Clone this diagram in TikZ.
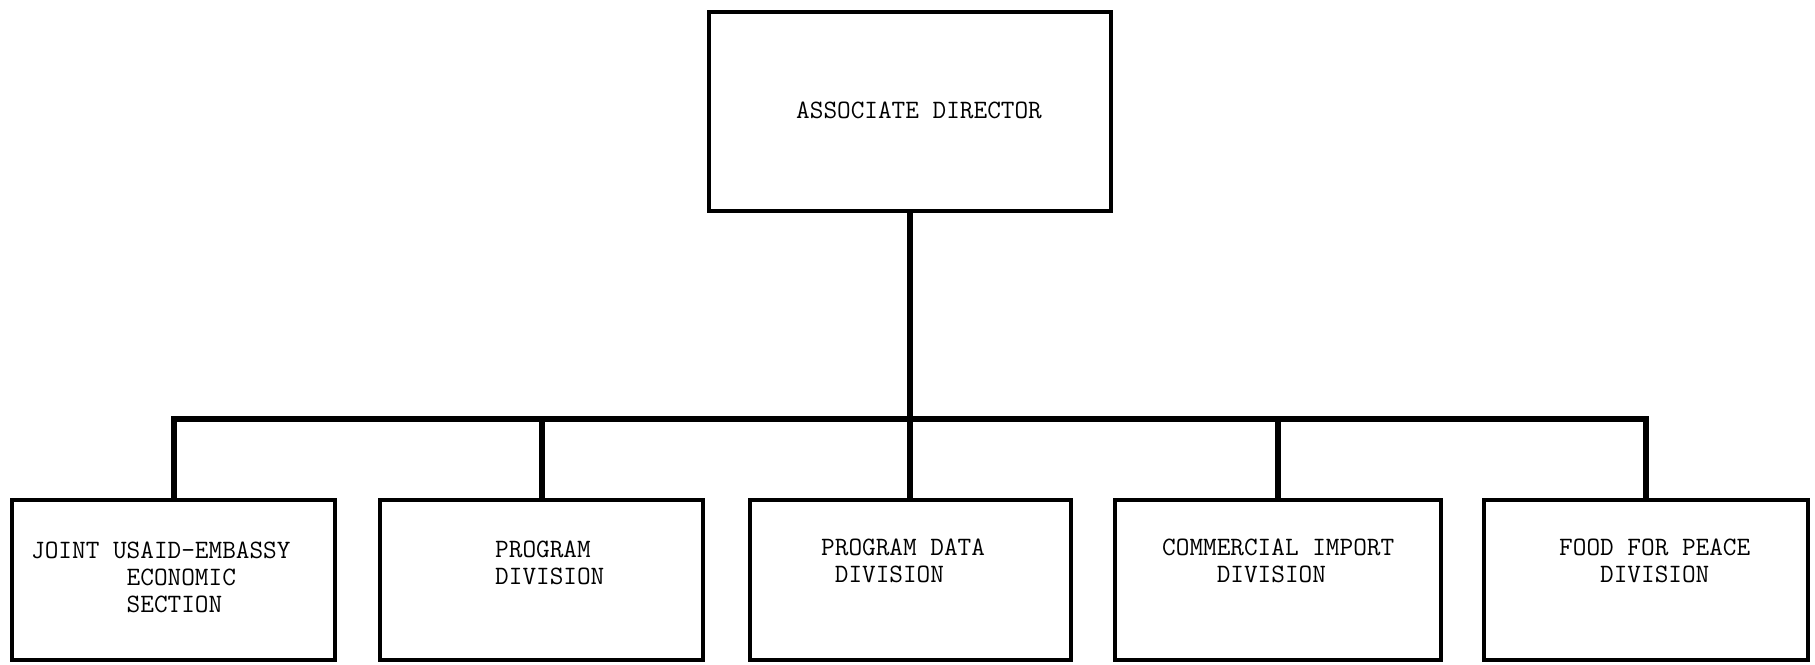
\documentclass[tikz,border=0pt]{standalone}
\usetikzlibrary{positioning}

% stacked lines of typewriter text, aligned on the first line's baseline
\newcommand{\boxlines}[1]{\begin{tabular}[t]{@{}l@{}}#1\end{tabular}}
% one character column of indent in the monospaced face
\newcommand{\col}[1]{\hphantom{#1}}

\begin{document}
\begin{tikzpicture}[x=1pt,y=-1pt,
  orgbox/.style={draw=black, line width=4pt, rectangle, inner sep=0pt,
                 line join=miter},
  lowbox/.style={orgbox, minimum height=160pt},
  label/.style={anchor=base west, inner sep=0pt,
                font=\ttfamily\fontsize{26.5}{27}\selectfont},
  link/.style={draw=black, line width=6pt, line cap=rect, line join=miter}]

  \useasboundingbox (0,0) rectangle (1815,664);

  % head of the office
  \node[orgbox, minimum width=402pt, minimum height=199pt] (top) at (910,111.5) {};
  \node[label] (toptext) at (796,118) {ASSOCIATE DIRECTOR};

  % divisions
  \node[lowbox, minimum width=323pt] (b1) at (173.5,580) {};
  \node[lowbox, minimum width=323pt] (b2) at (541.5,580) {};
  \node[lowbox, minimum width=321pt] (b3) at (910,580) {};
  \node[lowbox, minimum width=326pt] (b4) at (1278,580) {};
  \node[lowbox, minimum width=324pt] (b5) at (1646,580) {};

  \node[label] (t1) at (31,558) {\boxlines{JOINT USAID-EMBASSY\\ \col{0000000}ECONOMIC\\ \col{0000000}SECTION}};
  \node[label] (t2) at (495,557) {\boxlines{PROGRAM\\ DIVISION}};
  \node[label] (t3) at (821,555) {\boxlines{PROGRAM DATA\\ \col{0}DIVISION}};
  \node[label] (t4) at (1162,555) {\boxlines{COMMERCIAL IMPORT\\ \col{0000}DIVISION}};
  \node[label] (t5) at (1559,555) {\boxlines{FOOD FOR PEACE\\ \col{000}DIVISION}};

  % connecting lines
  \coordinate (bar) at (0,418.5);
  \draw[link] (top.south) -- (b3.north);
  \draw[link] (b1.north) -- (b1.north |- bar) -- (b5.north |- bar) -- (b5.north);
  \draw[link] (b2.north |- bar) -- (b2.north);
  \draw[link] (b4.north |- bar) -- (b4.north);
\end{tikzpicture}
\end{document}
